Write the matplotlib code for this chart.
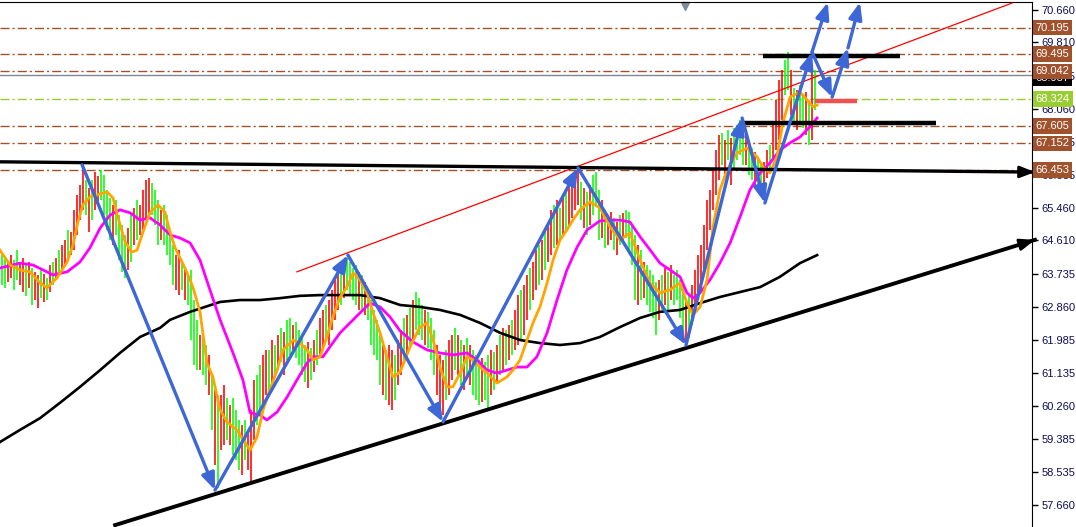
import matplotlib
matplotlib.use("Agg")
import matplotlib.pyplot as plt
import matplotlib.transforms as mtransforms
import numpy as np

plt.rcParams['lines.scale_dashes'] = False
plt.rcParams['font.family'] = ['Liberation Sans', 'DejaVu Sans']

# ---- bar data (one bar per slot, high / low, G = green, R = red) ----
bar_high = [
    64.30, 64.15, 64.04, 64.22, 64.09, 64.35, 64.04, 64.15, 63.96, 64.04,
    63.88, 63.78, 63.70, 63.83, 63.72, 63.62, 63.96, 64.04, 64.15, 64.35,
    64.49, 64.62, 64.88, 64.83, 65.41, 65.80, 66.06, 66.64, 66.19, 65.98,
    66.19, 66.40, 66.30, 66.46, 66.32, 65.93, 65.72, 65.54, 65.67, 65.27,
    65.01, 64.75, 64.93, 65.27, 65.46, 65.67, 65.54, 65.93, 66.19, 66.25,
    66.11, 65.93, 65.67, 65.41, 65.54, 65.27, 64.88, 64.49, 64.22, 64.35,
    64.04, 63.88, 63.70, 63.83, 63.04, 62.52, 62.12, 62.12, 61.86, 61.60,
    61.07, 60.68, 60.55, 60.55, 60.81, 60.47, 60.28, 60.47, 60.15, 59.89,
    59.76, 59.89, 59.63, 60.15, 60.94, 61.07, 61.34, 61.60, 61.73, 61.73,
    61.99, 61.86, 62.12, 62.31, 62.20, 62.52, 62.57, 62.39, 62.46, 62.25,
    62.04, 61.86, 61.94, 61.78, 61.99, 62.25, 62.57, 62.78, 62.91, 63.04,
    63.31, 63.57, 63.83, 63.88, 64.04, 64.15, 64.04, 63.88, 63.96, 63.78,
    63.70, 63.51, 63.31, 63.04, 62.78, 62.52, 62.12, 61.86, 61.73, 61.86,
    61.73, 61.60, 61.99, 62.25, 62.57, 62.65, 62.83, 63.04, 63.25, 63.09,
    62.91, 62.78, 62.73, 62.57, 62.25, 61.86, 61.60, 61.47, 61.73, 61.99,
    62.12, 62.31, 62.12, 61.99, 61.86, 62.04, 61.86, 61.73, 61.60, 61.47,
    61.52, 61.41, 61.60, 61.73, 61.68, 61.86, 62.12, 62.31, 62.25, 62.39,
    62.52, 62.78, 63.17, 63.31, 63.44, 63.70, 63.88, 64.04, 64.35, 64.49,
    64.62, 64.83, 65.01, 65.41, 65.54, 65.67, 65.46, 65.80, 65.93, 66.06,
    66.25, 66.40, 66.51, 66.14, 65.98, 65.88, 66.06, 66.32, 66.40, 65.93,
    65.67, 65.41, 65.27, 65.35, 65.20, 65.09, 65.27, 65.33, 65.41, 65.35,
    65.01, 64.75, 64.49, 64.35, 64.04, 63.96, 63.83, 63.70, 63.51, 63.57,
    63.70, 63.88, 63.78, 63.96, 63.70, 63.83, 63.57, 63.44, 63.04, 63.17,
    63.44, 63.83, 64.22, 64.49, 65.01, 65.67, 65.93, 66.46, 66.98, 67.37,
    67.43, 67.24, 67.51, 67.30, 67.56, 67.64, 67.77, 67.64, 67.37, 67.24,
    67.03, 66.93, 66.72, 66.59, 66.67, 66.98, 67.11, 67.64, 68.30, 68.82,
    69.08, 69.34, 69.55, 69.08, 68.61, 68.56, 68.69, 68.43, 68.50, 68.30, 69.03, 69.08,
]
bar_low = [
    63.44, 63.36, 63.51, 63.62, 63.31, 63.57, 63.44, 63.25, 63.15, 63.36,
    62.91, 63.04, 62.83, 63.09, 62.99, 63.04, 63.25, 63.44, 63.57, 63.70,
    63.83, 63.96, 64.09, 64.22, 64.35, 64.75, 65.14, 65.41, 65.27, 64.83,
    65.14, 65.41, 65.54, 65.67, 65.27, 64.88, 64.62, 64.49, 64.75, 64.09,
    63.78, 63.62, 63.83, 64.04, 64.49, 64.62, 64.75, 64.88, 65.14, 65.27,
    65.27, 65.01, 64.49, 64.62, 64.49, 64.22, 63.96, 63.44, 63.31, 63.17,
    63.31, 63.04, 62.91, 61.99, 61.34, 61.20, 61.20, 61.07, 60.81, 60.55,
    59.63, 58.71, 58.11, 59.10, 59.23, 59.37, 59.23, 58.97, 58.84, 58.58,
    58.45, 58.84, 58.58, 58.26, 59.37, 59.76, 60.02, 60.15, 60.55, 60.68,
    60.81, 60.99, 61.20, 61.41, 61.07, 61.47, 61.60, 61.73, 61.52, 61.34,
    61.07, 60.89, 60.73, 60.94, 61.15, 61.34, 61.60, 61.73, 61.99, 61.86,
    62.25, 62.52, 62.78, 62.91, 63.09, 63.31, 63.17, 63.04, 62.91, 62.78,
    62.73, 62.65, 62.52, 61.86, 61.60, 61.47, 60.81, 60.55, 60.42, 60.28,
    60.15, 60.42, 60.81, 61.07, 61.47, 61.60, 61.86, 61.99, 62.25, 62.12,
    61.99, 61.86, 61.78, 61.47, 61.07, 60.55, 60.15, 60.02, 60.42, 60.55,
    60.94, 61.20, 61.07, 60.81, 60.68, 60.99, 60.81, 60.55, 60.42, 60.28,
    60.36, 60.42, 60.21, 60.55, 60.68, 60.89, 61.07, 61.20, 61.34, 61.47,
    61.60, 61.73, 61.86, 61.99, 62.12, 62.52, 62.78, 63.04, 63.31, 63.44,
    63.57, 63.83, 64.04, 64.22, 64.41, 64.49, 64.62, 64.75, 64.88, 65.01,
    65.20, 65.41, 65.54, 65.14, 64.93, 64.75, 65.01, 65.27, 65.54, 64.62,
    64.67, 64.41, 64.49, 64.62, 64.35, 64.22, 64.49, 64.57, 64.67, 64.35,
    63.96, 63.04, 62.91, 63.04, 63.09, 62.91, 62.73, 62.57, 62.12, 62.52,
    62.78, 62.91, 62.78, 63.04, 62.91, 63.04, 62.57, 62.20, 61.86, 62.04,
    62.39, 62.78, 63.04, 63.31, 63.83, 64.35, 64.88, 65.41, 65.80, 66.19,
    66.59, 66.32, 66.72, 66.06, 66.46, 66.72, 66.85, 66.59, 66.59, 66.32,
    66.19, 66.06, 65.93, 65.80, 66.06, 66.25, 66.46, 66.72, 66.98, 67.24,
    67.77, 68.43, 68.56, 67.90, 67.64, 67.51, 67.64, 67.56, 67.37, 67.11, 67.24, 68.03,
]
bar_dir = ("GGRRGGRRGR" "GRRGRGRGRG" "RRGRRRRRGR" "GRRGGGGRGG" "GGRGRGRRRR"
           "GGGRGGGGRR" "GRGGGGRGGR" "GRGRRGRGGG" "RGRRRGGRRG" "RGRGRGGRGG"
           "GGRGRGRRGR" "RRRGRGGGGR" "GRGGGGGRGR" "RGRRGRGRGG" "GRGGGRRRGR"
           "RGRGRGRGGG" "RGGRGRGRGR" "GRRGRRGRRG" "RGRRGRGRGR" "RRRGRGRGGG"
           "RGRRGRGRGG" "GGRGRGGGGR" "GRGRGGGGRG" "RRRRRRRRRR" "GRGRGGGGRG"
           "GRGGRRGRRR" "RGGRGRGGRGRG")

# ---- moving averages (bar index, price) ----
fast_idx = [-0.7, 2.7, 6, 9.3, 12.7, 15, 18.3, 21.7, 23.7, 25.3, 27, 29.3, 31.7, 35, 37,
            38.7, 41, 43.3, 45, 47, 49.3, 52, 54.3, 56, 57.7, 60, 62, 63.7, 66, 68.3,
            70.3, 72.7, 75, 78.3, 80.3, 82.7, 85, 87, 89.3, 91.7, 93.7, 97, 99.3, 101.7,
            103.7, 106, 108.3, 110.3, 112.7, 115, 117, 119.3, 121.7, 123.7, 126, 128.3,
            130.3, 132.7, 136, 139.3, 141.7, 143.7, 146, 148.3, 150.3, 152.7, 155, 157,
            159.3, 161.7, 165, 168.3, 170.3, 172.7, 175, 177, 179.3, 181.7, 183.7, 186,
            188.3, 190.3, 192.7, 196, 199.3, 202.7, 206, 209.3, 212.7, 216, 219.3, 222.7,
            226, 228.3, 230.3, 232.7, 235, 237, 239.3, 241.7, 245, 248.3, 251.7, 253.7,
            256, 258.3, 260.3, 262.7, 266, 268.3, 270.3, 271.7]
fast_val = [64.35, 63.96, 63.83, 63.78, 63.49, 63.36, 63.62, 64.04, 64.49, 65.09, 65.54,
            65.75, 65.80, 65.88, 65.72, 65.20, 64.57, 64.30, 64.35, 64.83, 65.33, 65.54,
            65.35, 64.83, 64.41, 64.04, 63.70, 63.36, 62.73, 61.39, 61.02, 60.15, 59.84,
            59.63, 59.37, 59.10, 59.44, 60.15, 60.68, 61.20, 61.73, 61.99, 61.91, 61.73,
            61.47, 61.55, 62.07, 62.60, 63.12, 63.38, 63.75, 63.57, 63.23, 62.70, 62.18,
            61.55, 61.02, 61.15, 61.81, 62.33, 62.44, 61.99, 61.28, 60.76, 60.76, 61.12,
            61.55, 61.47, 61.28, 61.12, 60.86, 61.02, 61.20, 61.47, 61.99, 62.44, 62.86,
            63.49, 64.09, 64.62, 64.88, 65.14, 65.41, 65.62, 65.46, 64.96, 64.62, 64.80,
            64.09, 63.49, 63.23, 63.31, 63.49, 62.96, 62.65, 62.86, 63.57, 64.96, 65.93,
            66.46, 66.90, 67.03, 66.80, 66.53, 66.38, 66.80, 67.69, 68.37, 68.50, 68.30,
            68.11, 68.16]

mid_idx = [-0.7, 6, 10.3, 13.7, 17, 21.7, 26, 29.3, 32.7, 36, 39.3, 42.7, 46, 49.3, 52.7,
           56, 59.3, 62.7, 66, 69.3, 72.7, 77, 80.3, 82.7, 86, 88.3, 91.7, 95, 98.3, 101.7,
           103.7, 107, 109.3, 112.7, 116, 119.3, 122.7, 126, 129.3, 132.7, 137, 141.7, 146,
           150.3, 155, 158.3, 161.7, 165, 168.3, 171.7, 175, 178.3, 181.7, 185, 188.3,
           191.7, 195, 199.3, 202.7, 206, 209.3, 212.7, 216, 219.3, 222.7, 226, 228.3,
           230.3, 232.7, 236, 239.3, 242.7, 246, 249.3, 252.7, 256, 259.3, 262.7, 266,
           269.3, 271.7]
mid_val = [63.88, 64.01, 63.96, 63.83, 63.70, 63.78, 64.04, 64.41, 64.93, 65.27, 65.41,
           65.33, 65.14, 65.20, 65.01, 64.75, 64.67, 64.54, 64.09, 63.31, 62.52, 61.65,
           60.94, 60.08, 60.02, 59.89, 60.10, 60.49, 60.94, 61.39, 61.55, 61.55, 61.81,
           62.18, 62.44, 62.70, 62.96, 62.86, 62.60, 62.23, 61.94, 61.73, 61.65, 61.60,
           61.65, 61.47, 61.20, 61.12, 61.20, 61.28, 61.28, 61.55, 62.18, 63.04, 63.83,
           64.43, 64.88, 65.12, 65.14, 65.14, 65.09, 64.70, 64.36, 64.01, 63.83, 63.65,
           63.23, 63.09, 63.23, 63.57, 64.01, 64.54, 65.22, 65.93, 66.38, 66.64, 66.98,
           67.17, 67.32, 67.59, 67.82]

slow_idx = [-0.7, 6, 12.7, 19.3, 26, 32.7, 39.3, 46, 52.7, 56, 62.7, 67.7, 72.7, 79.3, 86,
            92.7, 99.3, 106, 112.7, 119.3, 126, 132.7, 139.3, 146, 152.7, 159.3, 166,
            172.7, 179.3, 186, 192.7, 199.3, 206, 212.7, 219.3, 226, 232.7, 239.3, 246,
            252.7, 259.3, 266, 271.7]
slow_val = [59.31, 59.63, 59.94, 60.34, 60.76, 61.20, 61.65, 62.07, 62.31, 62.52, 62.73,
            62.86, 62.99, 63.04, 63.04, 63.09, 63.15, 63.17, 63.17, 63.17, 63.09, 62.91,
            62.86, 62.78, 62.65, 62.44, 62.18, 61.99, 61.91, 61.86, 61.91, 62.07, 62.33,
            62.57, 62.73, 62.78, 62.96, 63.12, 63.25, 63.38, 63.65, 64.01, 64.22]

# ---- levels and drawings ----
brown_levels = [70.195, 69.495, 69.042, 67.605, 67.152, 66.453]
green_level = 68.324
bid_price = 68.937
tick_vals = [70.660, 69.810, 68.935, 68.060, 67.185, 66.335, 65.460, 64.610,
             63.735, 62.860, 61.985, 61.135, 60.260, 59.385, 58.535, 57.660]

wave_idx = [26.7, 71, 115.3, 147, 192, 228, 246.7, 254.3, 270, 276.7, 282]
wave_val = [66.59, 58.05, 64.22, 59.84, 66.51, 61.86, 67.82, 65.59, 69.55, 68.37, 69.66]
proj_from = [(270, 69.55), (282, 69.66)]
proj_to = [(275.3, 70.86), (286, 70.86)]

channel_idx, channel_val = [98.3, 336.7], [63.78, 70.84]
resist_idx, resist_val = [-0.7, 344.3], [66.67, 66.40]
support_idx, support_val = [37.7, 344.3], [57.13, 64.62]
box_top_idx, box_top_val = [253.7, 299.3], 69.46
box_mid_idx, box_mid_val = [246.7, 311.3], 67.69
red_seg_idx, red_seg_val = [271.0, 285.0], 68.27

BROWN = '#a0522d'
BLUE = '#3d66d6'

fig = plt.figure(figsize=(10.76, 5.27), dpi=100)
ax = fig.add_axes([0, 0, 1032 / 1076, 1 - 1.5 / 527])
ax.set_xlim(-0.67, 343.33)
ax.set_ylim(57.08, 70.88)

dash_dot = (0, (6.5, 2.2, 1.5, 2.2))
for v in brown_levels:
    ax.axhline(v, color=BROWN, lw=1.0, ls=dash_dot, zorder=1)
ax.axhline(green_level, color='#9acd32', lw=1.0, ls=dash_dot, zorder=1)
ax.axhline(bid_price, color='#7f8891', lw=1.0, zorder=1)

# bars
idx = np.arange(len(bar_high))
cols = ['#00ff00' if c == 'G' else '#ff0000' for c in bar_dir]
ax.vlines(idx, bar_low, bar_high, colors=cols, lw=1.15, zorder=3)

# moving averages
ax.plot(slow_idx, slow_val, color='black', lw=1.9, zorder=4)
ax.plot(mid_idx, mid_val, color='#ff00ff', lw=2.0, zorder=4)
ax.plot(fast_idx, fast_val, color='#ffa500', lw=2.0, zorder=5)

# trend lines
ax.plot(channel_idx, channel_val, color='#ff0000', lw=0.9, zorder=6)
ax.plot(support_idx, support_val, color='black', lw=2.8, zorder=6, clip_on=False)
ax.plot(resist_idx, resist_val, color='black', lw=2.4, zorder=6, clip_on=False)
for xs, ys in [(resist_idx, resist_val), (support_idx, support_val)]:
    ax.annotate('', xy=(xs[1], ys[1]), xytext=(xs[1] - 4, ys[1] - (ys[1] - ys[0]) * 4 / (xs[1] - xs[0])),
                arrowprops=dict(arrowstyle='-|>,head_length=0.9,head_width=0.35',
                                color='black', lw=2, shrinkA=0, shrinkB=0),
                annotation_clip=False, zorder=7)

ax.hlines(box_top_val, *box_top_idx, color='black', lw=3.2, zorder=6)
ax.hlines(box_mid_val, *box_mid_idx, color='black', lw=3.2, zorder=6)
ax.hlines(red_seg_val, *red_seg_idx, color='#f25050', lw=3.2, zorder=6)

# wave arrows
arrow_style = '-|>,head_length=1.0,head_width=0.4'
starts = list(zip(wave_idx[:-1], wave_val[:-1])) + proj_from
ends = list(zip(wave_idx[1:], wave_val[1:])) + proj_to
for s, e in zip(starts, ends):
    ax.annotate('', xy=e, xytext=s,
                arrowprops=dict(arrowstyle=arrow_style, color=BLUE, lw=2.4,
                                shrinkA=0, shrinkB=0),
                zorder=8)

# chart shift marker
ax.plot([685 / 1032], [0.992], marker='v', color='#7f8a94', ms=6,
        transform=ax.transAxes, clip_on=False)

# axes styling
for side in ['left', 'bottom']:
    ax.spines[side].set_visible(False)
ax.spines['top'].set_color('black')
ax.spines['right'].set_color('black')
ax.set_xticks([])
ax.yaxis.tick_right()
ax.set_yticks(tick_vals)
ax.set_yticklabels([f'{v:.3f}' for v in tick_vals])
ax.tick_params(axis='y', direction='out', length=4, width=1, colors='black',
               labelcolor='#0d0d55', labelsize=8, pad=3)

trans = mtransforms.blended_transform_factory(ax.transAxes, ax.transData)
label_kw = dict(transform=trans, va='center', ha='left', fontsize=8, color='white', zorder=10)
ax.text(1.0035, bid_price - 0.06, f'{bid_price:.3f}',
        bbox=dict(boxstyle='square,pad=0.25', fc='black', ec='none'), **label_kw)
for v in brown_levels:
    ax.text(1.0035, v, f'{v:.3f}',
            bbox=dict(boxstyle='square,pad=0.25', fc=BROWN, ec='none'), **label_kw)
ax.text(1.0035, green_level, f'{green_level:.3f}',
        bbox=dict(boxstyle='square,pad=0.25', fc='#9acd32', ec='none'), **label_kw)

fig.savefig('out.png', dpi=100, facecolor='white')
